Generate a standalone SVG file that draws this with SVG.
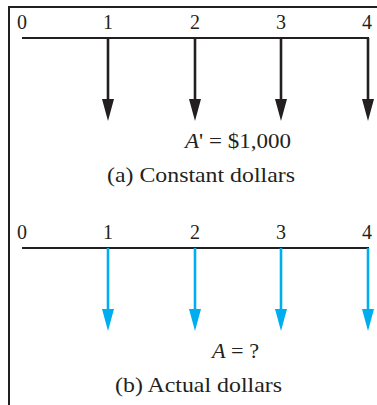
<svg xmlns="http://www.w3.org/2000/svg" width="377" height="405" viewBox="0 0 377 405">
<style>
text{font-family:"Liberation Serif","Times New Roman",serif;font-size:20px;fill:#231f20}
.n{text-anchor:middle}
.l{font-size:22px}
.tl{stroke:#231f20;stroke-width:2;fill:none}
.ak{stroke:#231f20;stroke-width:2.6}
.ab{stroke:#00aeef;stroke-width:2.6}
</style>
<defs>
<path id="hk" d="M-6,0 L6,0 L0,22 Z" fill="#231f20"/>
<path id="hb" d="M-6,0 L6,0 L0,22 Z" fill="#00aeef"/>
</defs>
<g id="frame"><path class="tl" d="M9,405 V7 H377"/></g>
<g id="diagram-a">
<line class="tl" x1="22" y1="38" x2="369" y2="38"/>
<text class="n" x="22" y="29">0</text>
<text class="n" x="108" y="29">1</text>
<text class="n" x="195" y="29">2</text>
<text class="n" x="281" y="29">3</text>
<text class="n" x="367" y="29">4</text>
</g>
<g id="connectors-a">
<line class="ak" x1="108" y1="38" x2="108" y2="102"/><use href="#hk" x="108" y="99"/>
<line class="ak" x1="195" y1="38" x2="195" y2="102"/><use href="#hk" x="195" y="99"/>
<line class="ak" x1="281" y1="38" x2="281" y2="102"/><use href="#hk" x="281" y="99"/>
<line class="ak" x1="368" y1="38" x2="368" y2="102"/><use href="#hk" x="368" y="99"/>
</g>
<g id="label-a">
<text class="l" x="185" y="148" textLength="106" lengthAdjust="spacingAndGlyphs"><tspan font-style="italic">A</tspan>' = $1,000</text>
<text class="l" x="107" y="182" textLength="188" lengthAdjust="spacingAndGlyphs">(a) Constant dollars</text>
</g>
<g id="diagram-b">
<line class="tl" x1="22" y1="248" x2="369" y2="248"/>
<text class="n" x="22" y="239">0</text>
<text class="n" x="108" y="239">1</text>
<text class="n" x="195" y="239">2</text>
<text class="n" x="281" y="239">3</text>
<text class="n" x="367" y="239">4</text>
</g>
<g id="connectors-b">
<line class="ab" x1="108" y1="248" x2="108" y2="312"/><use href="#hb" x="108" y="309"/>
<line class="ab" x1="195" y1="248" x2="195" y2="312"/><use href="#hb" x="195" y="309"/>
<line class="ab" x1="281" y1="248" x2="281" y2="312"/><use href="#hb" x="281" y="309"/>
<line class="ab" x1="368" y1="248" x2="368" y2="312"/><use href="#hb" x="368" y="309"/>
</g>
<g id="label-b">
<text class="l" x="212" y="358" textLength="47" lengthAdjust="spacingAndGlyphs"><tspan font-style="italic">A</tspan> = ?</text>
<text class="l" x="115" y="392" textLength="167" lengthAdjust="spacingAndGlyphs">(b) Actual dollars</text>
</g>
</svg>
